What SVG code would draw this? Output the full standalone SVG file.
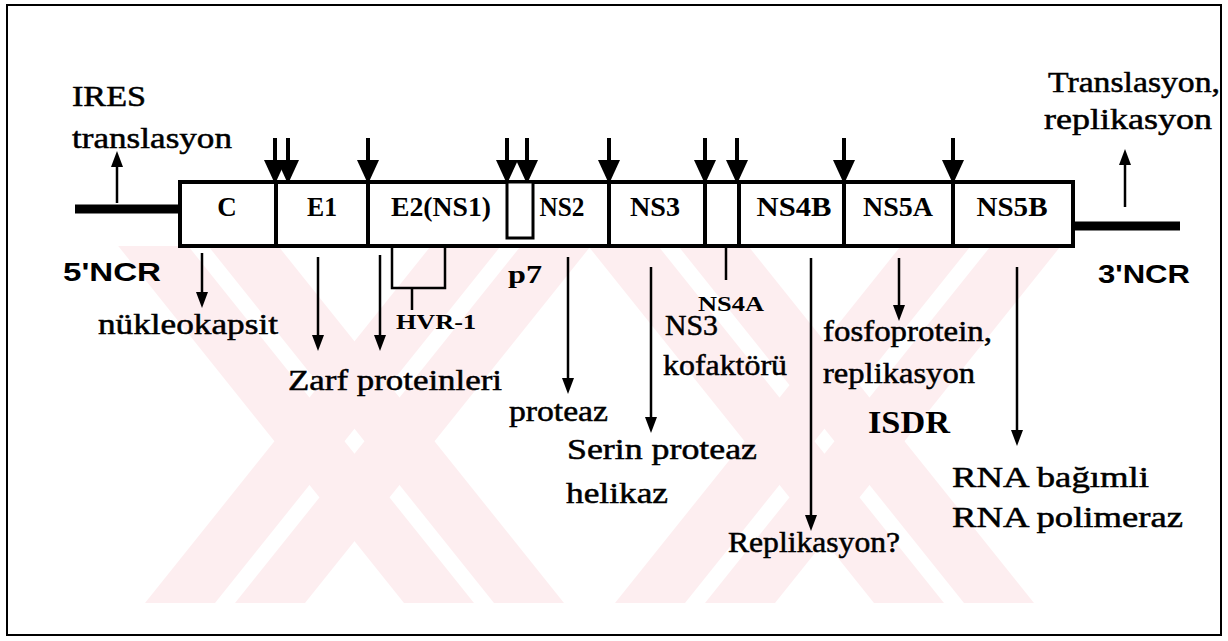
<svg xmlns="http://www.w3.org/2000/svg" width="1228" height="641" viewBox="0 0 1228 641">
<defs>
<marker id="bigHead" markerUnits="userSpaceOnUse" markerWidth="24" markerHeight="24" viewBox="0 0 24 24" refX="10" refY="12" orient="auto">
<path d="M0,1 L24,12 L0,23 z" fill="#000"/>
</marker>
<marker id="head" markerUnits="userSpaceOnUse" markerWidth="16" markerHeight="14" viewBox="0 0 16 14" refX="5" refY="7" orient="auto">
<path d="M0,1 L16,7 L0,13 z" fill="#000"/>
</marker>
<clipPath id="wmClip"><rect x="100" y="246" width="1030" height="358"/></clipPath>
</defs>
<style>
.frame{fill:#fff;stroke:#000;stroke-width:2}
.wm{fill:#fdeef0}
.box{fill:#fff;stroke:#000;stroke-width:4}
.div{stroke:#000;stroke-width:4}
.thick{stroke:#000;stroke-width:9}
.big{stroke:#000;stroke-width:4;marker-end:url(#bigHead)}
.thin{stroke:#000;stroke-width:2.5;fill:none;marker-end:url(#head)}
.plain{stroke:#000;stroke-width:2.5;fill:none}
text{fill:#000;font-family:"Liberation Serif","Times New Roman",serif}
.bl{font-size:27px;font-weight:bold;text-anchor:middle}
.lab{font-size:29px;stroke:#000;stroke-width:0.5}
.lb{font-weight:bold}
.ncr{font-family:"Liberation Sans",Arial,sans-serif;font-size:25px;font-weight:bold}
</style>
<rect class="frame" x="7" y="5" width="1214" height="630"/>
<g id="watermark" clip-path="url(#wmClip)">
<polygon class="wm" points="115,242 185,242 474,603 404,603"/>
<polygon class="wm" points="205,242 275,242 564,603 494,603"/>
<polygon class="wm" points="145,603 215,603 504,242 434,242"/>
<polygon class="wm" points="235,603 305,603 594,242 524,242"/>
<polygon class="wm" points="585,242 655,242 944,603 874,603"/>
<polygon class="wm" points="675,242 745,242 1034,603 964,603"/>
<polygon class="wm" points="615,603 685,603 974,242 904,242"/>
<polygon class="wm" points="705,603 775,603 1064,242 994,242"/>
</g>
<g id="connectors">
<line class="thick" x1="75" y1="209" x2="182" y2="209"/>
<line class="thick" x1="1071" y1="226" x2="1180" y2="226"/>
<line class="thin" x1="117" y1="203" x2="117" y2="162"/>
<line class="thin" x1="1125" y1="207" x2="1125" y2="160"/>
<line class="big" x1="275" y1="138" x2="275" y2="170"/>
<line class="big" x1="288" y1="138" x2="288" y2="170"/>
<line class="big" x1="368" y1="138" x2="368" y2="170"/>
<line class="big" x1="507" y1="138" x2="507" y2="170"/>
<line class="big" x1="527" y1="138" x2="527" y2="170"/>
<line class="big" x1="609" y1="138" x2="609" y2="170"/>
<line class="big" x1="705" y1="138" x2="705" y2="170"/>
<line class="big" x1="737" y1="138" x2="737" y2="170"/>
<line class="big" x1="844" y1="138" x2="844" y2="170"/>
<line class="big" x1="953" y1="138" x2="953" y2="170"/>
<line class="thin" x1="202" y1="253" x2="202" y2="297"/>
<line class="thin" x1="318" y1="257" x2="318" y2="340"/>
<line class="thin" x1="380" y1="255" x2="380" y2="340"/>
<polyline class="plain" points="392,246 392,288 445,288 445,246"/>
<line class="plain" x1="412" y1="288" x2="412" y2="310"/>
<line class="plain" x1="520" y1="238" x2="520" y2="246"/>
<line class="thin" x1="568" y1="257" x2="568" y2="383"/>
<line class="thin" x1="651" y1="267" x2="651" y2="422"/>
<line class="plain" x1="726" y1="246" x2="726" y2="280"/>
<line class="thin" x1="811" y1="258" x2="811" y2="520"/>
<line class="thin" x1="899" y1="258" x2="899" y2="310"/>
<line class="thin" x1="1017" y1="267" x2="1017" y2="435"/>
</g>
<g id="genome">
<rect class="box" x="180" y="182" width="893" height="64"/>
<line class="div" x1="276" y1="182" x2="276" y2="246"/>
<line class="div" x1="368" y1="182" x2="368" y2="246"/>
<line class="div" x1="609" y1="182" x2="609" y2="246"/>
<line class="div" x1="705" y1="182" x2="705" y2="246"/>
<line class="div" x1="739" y1="182" x2="739" y2="246"/>
<line class="div" x1="844" y1="182" x2="844" y2="246"/>
<line class="div" x1="953" y1="182" x2="953" y2="246"/>
<rect x="507" y="182" width="26" height="56" fill="#fff" stroke="#000" stroke-width="3"/>
</g>
<g id="node-C"><text class="bl" x="227" y="216">C</text></g>
<g id="node-E1"><text class="bl" x="322" y="216" textLength="30" lengthAdjust="spacingAndGlyphs">E1</text></g>
<g id="node-E2"><text class="bl" x="441" y="216" textLength="100" lengthAdjust="spacingAndGlyphs">E2(NS1)</text></g>
<g id="node-NS2"><text class="bl" x="562" y="216" textLength="45" lengthAdjust="spacingAndGlyphs">NS2</text></g>
<g id="node-NS3"><text class="bl" x="655" y="216" textLength="50" lengthAdjust="spacingAndGlyphs">NS3</text></g>
<g id="node-NS4B"><text class="bl" x="794" y="216" textLength="75" lengthAdjust="spacingAndGlyphs">NS4B</text></g>
<g id="node-NS5A"><text class="bl" x="898" y="216" textLength="70" lengthAdjust="spacingAndGlyphs">NS5A</text></g>
<g id="node-NS5B"><text class="bl" x="1012" y="216" textLength="71" lengthAdjust="spacingAndGlyphs">NS5B</text></g>
<g id="label-IRES">
<text class="lab" x="72" y="106" textLength="74" lengthAdjust="spacingAndGlyphs">IRES</text>
<text class="lab" x="72" y="148" textLength="160" lengthAdjust="spacingAndGlyphs">translasyon</text>
</g>
<g id="label-3translasyon">
<text class="lab" x="1048" y="92" textLength="172" lengthAdjust="spacingAndGlyphs">Translasyon,</text>
<text class="lab" x="1044" y="129" textLength="168" lengthAdjust="spacingAndGlyphs">replikasyon</text>
</g>
<g id="label-5NCR"><text class="ncr" x="63" y="281" textLength="98" lengthAdjust="spacingAndGlyphs">5'NCR</text></g>
<g id="label-3NCR"><text class="ncr" x="1098" y="283" textLength="92" lengthAdjust="spacingAndGlyphs">3'NCR</text></g>
<g id="label-nukleokapsit"><text class="lab" x="98" y="334" textLength="180" lengthAdjust="spacingAndGlyphs">nükleokapsit</text></g>
<g id="label-zarf"><text class="lab" x="288" y="390" textLength="214" lengthAdjust="spacingAndGlyphs">Zarf proteinleri</text></g>
<g id="label-HVR1"><text class="lb" x="396" y="329" font-size="22" textLength="80" lengthAdjust="spacingAndGlyphs">HVR-1</text></g>
<g id="label-p7"><text class="lb" x="508" y="283" font-size="26" textLength="34" lengthAdjust="spacingAndGlyphs">p7</text></g>
<g id="label-proteaz"><text class="lab" x="509" y="421" textLength="99" lengthAdjust="spacingAndGlyphs">proteaz</text></g>
<g id="label-NS4A"><text class="lb" x="698" y="311" font-size="22" textLength="66" lengthAdjust="spacingAndGlyphs">NS4A</text></g>
<g id="label-NS3kofaktor">
<text class="lab" x="665" y="335" textLength="53" lengthAdjust="spacingAndGlyphs">NS3</text>
<text class="lab" x="663" y="375" textLength="124" lengthAdjust="spacingAndGlyphs">kofaktörü</text>
</g>
<g id="label-serin">
<text class="lab" x="567" y="459" textLength="190" lengthAdjust="spacingAndGlyphs">Serin proteaz</text>
<text class="lab" x="566" y="503" textLength="102" lengthAdjust="spacingAndGlyphs">helikaz</text>
</g>
<g id="label-replikasyon"><text class="lab" x="728" y="552" textLength="172" lengthAdjust="spacingAndGlyphs">Replikasyon?</text></g>
<g id="label-fosfoprotein">
<text class="lab" x="823" y="341" textLength="169" lengthAdjust="spacingAndGlyphs">fosfoprotein,</text>
<text class="lab" x="823" y="383" textLength="152" lengthAdjust="spacingAndGlyphs">replikasyon</text>
<text class="lb" x="868" y="433" font-size="31" textLength="82" lengthAdjust="spacingAndGlyphs">ISDR</text>
</g>
<g id="label-RNA">
<text class="lab" x="952" y="487" textLength="197" lengthAdjust="spacingAndGlyphs">RNA bağımli</text>
<text class="lab" x="952" y="527" textLength="231" lengthAdjust="spacingAndGlyphs">RNA polimeraz</text>
</g>
</svg>
